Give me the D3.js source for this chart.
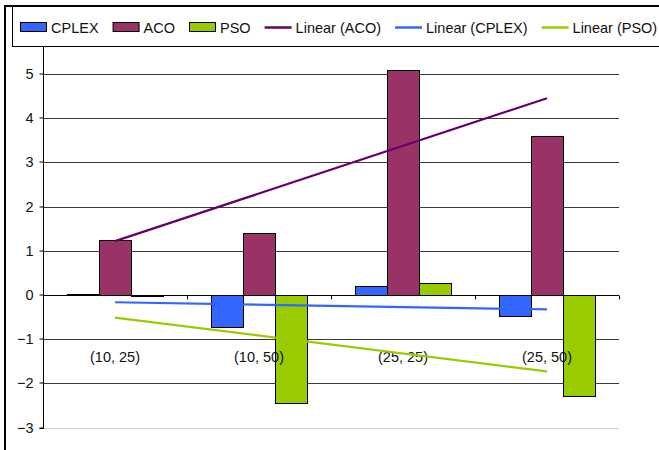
<!DOCTYPE html>
<html>
<head>
<meta charset="utf-8">
<script src="https://cdn.jsdelivr.net/npm/d3@7"></script>
<style>
  html, body { margin: 0; padding: 0; background: #fff; }
  svg { display: block; }
  text { font-family: "Liberation Sans", Arial, sans-serif; font-size: 14.5px; fill: #111; }
</style>
</head>
<body>
<svg id="chart" width="659" height="450"></svg>
<script>
// Data
const categories = ["(10, 25)", "(10, 50)", "(25, 25)", "(25, 50)"];
const seriesNames = ["CPLEX", "ACO", "PSO"];
const cplexValues = [0.02, -0.73, 0.20, -0.47];
const acoValues   = [1.24, 1.40, 5.10, 3.60];
const psoValues   = [-0.02, -2.45, 0.27, -2.28];
const yTicks = [-3, -2, -1, 0, 1, 2, 3, 4, 5, 6];
const trendOrder = ["ACO", "CPLEX", "PSO"];

const seriesValues = { CPLEX: cplexValues, ACO: acoValues, PSO: psoValues };
const barColor = { CPLEX: "#3366FF", ACO: "#993366", PSO: "#99CC00" };
const trendColor = { CPLEX: "#3366FF", ACO: "#660066", PSO: "#99CC00" };

const svg = d3.select("#chart");

// Plot area
const plotLeft = 43, plotRight = 619;
const x = d3.scaleBand().domain(categories).range([plotLeft, plotRight]).paddingInner(0).paddingOuter(0);
const xInner = d3.scaleBand().domain(seriesNames).range([24, 120]);
const y = d3.scaleLinear().domain([-3, 6]).range([427.6, 29.8]);

const crisp = v => Math.round(v) + 0.5;

// Horizontal gridlines
svg.append("g").selectAll("line")
  .data(yTicks.filter(t => t !== 0))
  .join("line")
  .attr("x1", plotLeft).attr("x2", plotRight)
  .attr("y1", d => crisp(y(d))).attr("y2", d => crisp(y(d)))
  .attr("stroke", d => d === -3 ? "#cfcfcf" : "#3a3a3a")
  .attr("stroke-width", 1);

// Value axis
const yAxis = svg.append("g")
  .attr("transform", `translate(${crisp(plotLeft)},0)`)
  .call(d3.axisLeft(y).tickValues(yTicks).tickSize(4).tickPadding(6).tickFormat(d3.format("d")));
yAxis.select(".domain").attr("stroke", "#000").attr("d", `M-4,${crisp(y(6))}H0V${crisp(y(-3))}H-4`);
yAxis.selectAll(".tick line").attr("stroke", "#000");
yAxis.selectAll(".tick text").attr("fill", "#111")
  .style("font-family", '"Liberation Sans", Arial, sans-serif').style("font-size", "14.5px");
yAxis.selectAll(".tick").attr("transform", d => `translate(0,${crisp(y(d)) - 0.5})`);

// Bars
const groups = svg.append("g").selectAll("g")
  .data(categories)
  .join("g")
  .attr("transform", d => `translate(${x(d)},0)`);

groups.selectAll("rect")
  .data((c, i) => seriesNames.map(s => ({ s, v: seriesValues[s][i] })))
  .join("rect")
  .attr("x", d => Math.round(xInner(d.s)) + 0.5)
  .attr("width", Math.round(xInner.bandwidth()))
  .attr("y", d => Math.round(y(Math.max(0, d.v))) + 0.5)
  .attr("height", d => Math.max(1, Math.round(Math.abs(y(d.v) - y(0)))))
  .attr("fill", d => barColor[d.s])
  .attr("stroke", "#000")
  .attr("stroke-width", 1);

// Category axis along zero
const zeroY = crisp(y(0));
svg.append("line")
  .attr("x1", plotLeft).attr("x2", plotRight)
  .attr("y1", zeroY).attr("y2", zeroY)
  .attr("stroke", "#000");
svg.append("g").selectAll("line")
  .data(categories)
  .join("line")
  .attr("x1", d => crisp(x(d) + x.bandwidth())).attr("x2", d => crisp(x(d) + x.bandwidth()))
  .attr("y1", zeroY).attr("y2", zeroY + 4)
  .attr("stroke", "#000");

// Category labels
svg.append("g").selectAll("text")
  .data(categories)
  .join("text")
  .attr("x", d => x(d) + x.bandwidth() / 2)
  .attr("y", 362)
  .attr("text-anchor", "middle")
  .attr("fill", "#222")
  .text(d => d);

// Linear trend lines (least squares over category index)
function linearFit(vals) {
  const xs = vals.map((_, i) => i + 1);
  const mx = d3.mean(xs), my = d3.mean(vals);
  const slope = d3.sum(xs, (xi, i) => (xi - mx) * (vals[i] - my)) / d3.sum(xs, xi => (xi - mx) ** 2);
  return xi => my + slope * (xi - mx);
}
const centers = categories.map(c => x(c) + x.bandwidth() / 2);
svg.append("g").selectAll("line")
  .data(trendOrder)
  .join("line")
  .each(function (s) {
    const f = linearFit(seriesValues[s]);
    d3.select(this)
      .attr("x1", centers[0]).attr("y1", y(f(1)))
      .attr("x2", centers[centers.length - 1]).attr("y2", y(f(categories.length)));
  })
  .attr("stroke", s => trendColor[s])
  .attr("stroke-width", 2.2);

// Outer frame
svg.append("path")
  .attr("d", "M5,460V6H670")
  .attr("fill", "none")
  .attr("stroke", "#000")
  .attr("stroke-width", 2);

// Legend
const legend = svg.append("g");
legend.append("rect")
  .attr("x", 12.5).attr("y", 6.5).attr("width", 700).attr("height", 40)
  .attr("fill", "#fff").attr("stroke", "#000").attr("stroke-width", 1);

const legendItems = [
  ...seriesNames.map(s => ({ label: s, kind: "bar", color: barColor[s] })),
  ...trendOrder.map(s => ({ label: `Linear (${s})`, kind: "line", color: trendColor[s] }))
];
let lx = 20;
const ly = 27.5;
legendItems.forEach(item => {
  if (item.kind === "bar") {
    legend.append("rect")
      .attr("x", lx + 0.5).attr("y", 22.5).attr("width", 26).attr("height", 9)
      .attr("fill", item.color).attr("stroke", "#000").attr("stroke-width", 1);
  } else {
    legend.append("line")
      .attr("x1", lx).attr("x2", lx + 27).attr("y1", ly).attr("y2", ly)
      .attr("stroke", item.color).attr("stroke-width", 2.5);
  }
  const t = legend.append("text")
    .attr("x", lx + 31).attr("y", ly).attr("dy", "0.35em")
    .attr("fill", "#000")
    .text(item.label);
  lx = lx + 31 + t.node().getComputedTextLength() + 14;
});
</script>
</body>
</html>
